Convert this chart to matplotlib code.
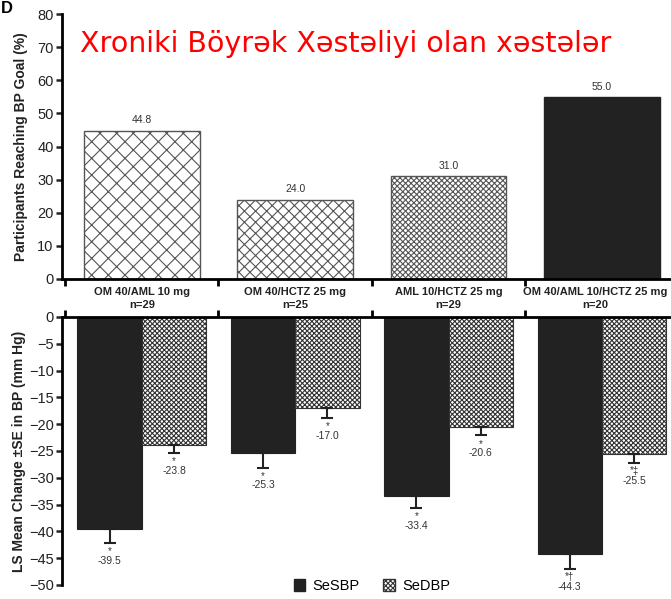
import matplotlib
matplotlib.use("Agg")
import matplotlib.pyplot as plt
from matplotlib.patches import Patch
import numpy as np

plt.rcParams['font.family'] = ['Liberation Sans', 'DejaVu Sans']
plt.rcParams['hatch.linewidth'] = 0.8

# Data
groups = ["OM 40/AML 10 mg", "OM 40/HCTZ 25 mg", "AML 10/HCTZ 25 mg", "OM 40/AML 10/HCTZ 25 mg"]
n_labels = ["n=29", "n=25", "n=29", "n=20"]
goal_pct = [44.8, 24.0, 31.0, 55.0]
sbp_change = [-39.5, -25.3, -33.4, -44.3]
dbp_change = [-23.8, -17.0, -20.6, -25.5]
sbp_se = [2.6, 2.8, 2.3, 2.7]
dbp_se = [1.6, 1.8, 1.5, 1.7]
sbp_marks = ["*", "*", "*", "*†"]
dbp_marks = ["*", "*", "*", "*‡"]

W, H = 671, 599
fig = plt.figure(figsize=(W / 100, H / 100), dpi=100)

def fx(px):
    return px / W

def fy(py):
    return 1 - py / H

x = np.arange(len(groups))
xlim = (-0.52, 3.45)
ink = "#222222"

# ---- Top panel: participants reaching BP goal ----
ax1 = fig.add_axes([fx(62), fy(279), 1 - fx(62), fy(14) - fy(279)])
hatches = ["xx", "xxx", "xxxxxx", None]
faces = ["white", "white", "white", ink]
edges = ["#555555", "#555555", "#555555", ink]
for i, v in enumerate(goal_pct):
    ax1.bar(x[i], v, width=0.755, color=faces[i], edgecolor=edges[i],
            hatch=hatches[i], linewidth=1.0, zorder=2)
    ax1.text(x[i], v + 1.6, f"{v:.1f}", ha="center", va="bottom",
             fontsize=7.5, color="#333333")
ax1.set_xlim(*xlim)
ax1.set_ylim(0, 80)
ax1.set_yticks(np.arange(0, 81, 10))
ax1.tick_params(axis="y", labelsize=10.5, width=1.8, length=4, pad=2, colors=ink)
ax1.set_xticks([-0.5, 0.5, 1.5, 2.5])
ax1.set_xticklabels([])
ax1.tick_params(axis="x", which="major", direction="out", length=5, width=2)
# Group labels under the top panel (last one nudged left to stay on the canvas)
nudges = [0, 0, 0, -5]
for i, (g, n) in enumerate(zip(groups, n_labels)):
    ax1.annotate(f"{g}\n{n}", xy=(x[i], 0), xycoords=("data", "axes fraction"),
                 xytext=(nudges[i], -6), textcoords="offset points",
                 ha="center", va="top", fontsize=8, fontweight="bold", color=ink,
                 linespacing=1.35, annotation_clip=False)
for s in ["top", "right"]:
    ax1.spines[s].set_visible(False)
for s in ["left", "bottom"]:
    ax1.spines[s].set_linewidth(2)
ax1.set_ylabel("Participants Reaching BP Goal (%)", fontsize=10, fontweight="bold",
               color=ink, labelpad=7)

# ---- Bottom panel: LS mean change in BP ----
ax2 = fig.add_axes([fx(62), fy(585), 1 - fx(62), fy(317) - fy(585)])
bw = 0.42
xs = x - bw / 2
xd = x + bw / 2
ax2.bar(xs, sbp_change, width=bw, color=ink, edgecolor=ink, linewidth=0.8, zorder=2)
ax2.bar(xd, dbp_change, width=bw, color="white", edgecolor="#333333", hatch="xxxxxxx",
        linewidth=0.8, zorder=2)
ax2.errorbar(xs, sbp_change, yerr=[sbp_se, [0] * 4], fmt="none", ecolor=ink,
             elinewidth=1.5, capsize=4, capthick=1.5, zorder=3)
ax2.errorbar(xd, dbp_change, yerr=[dbp_se, [0] * 4], fmt="none", ecolor=ink,
             elinewidth=1.5, capsize=4, capthick=1.5, zorder=3)
for xs_, vals, ses, marks in [(xs, sbp_change, sbp_se, sbp_marks),
                              (xd, dbp_change, dbp_se, dbp_marks)]:
    for xi, v, se, m in zip(xs_, vals, ses, marks):
        ax2.text(xi, v - se - 0.6, m, ha="center", va="top", fontsize=7, color="#333333")
        ax2.text(xi, v - se - 2.4, f"{v:.1f}", ha="center", va="top", fontsize=7.5,
                 color="#333333")
ax2.set_xlim(*xlim)
ax2.set_ylim(-50, 0)
ax2.set_yticks(np.arange(-50, 1, 5))
ax2.tick_params(axis="y", labelsize=10.5, width=1.8, length=4, pad=2, colors=ink)
ax2.xaxis.set_ticks_position("top")
ax2.set_xticks([-0.5, 0.5, 1.5, 2.5])
ax2.set_xticklabels([])
ax2.tick_params(axis="x", direction="out", length=5, width=2)
for s in ["bottom", "right"]:
    ax2.spines[s].set_visible(False)
for s in ["left", "top"]:
    ax2.spines[s].set_linewidth(2)
ax2.set_ylabel("LS Mean Change ±SE in BP (mm Hg)", fontsize=10, fontweight="bold",
               color=ink, labelpad=2)

handles = [Patch(facecolor=ink, edgecolor=ink, label="SeSBP"),
           Patch(facecolor="white", edgecolor="#333333", hatch="xxxxxxx", label="SeDBP")]
fig.legend(handles=handles, loc="center", bbox_to_anchor=(fx(372), fy(586)), ncol=2,
           frameon=False, fontsize=10.5, handlelength=0.8, handleheight=0.8,
           columnspacing=1.6, handletextpad=0.5)

# Panel letter and heading
fig.text(0.002, 0.999, "D", fontsize=12, fontweight="bold", ha="left", va="top")
fig.text(fx(80), fy(44), "Xroniki Böyrək Xəstəliyi olan xəstələr", color="red",
         fontsize=20.5, ha="left", va="center", family=["DejaVu Sans"])

fig.savefig("out.png", dpi=100)
